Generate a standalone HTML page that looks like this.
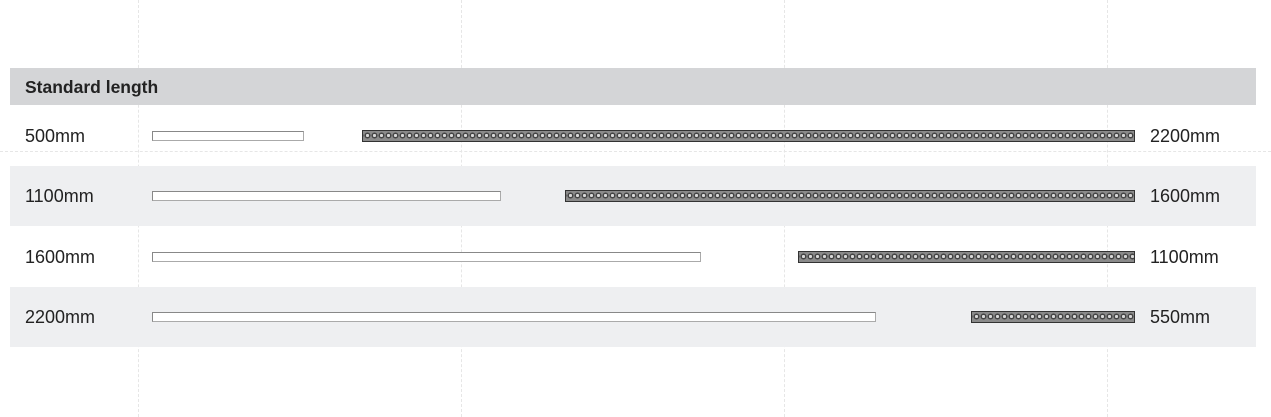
<!DOCTYPE html>
<html><head><style>
html,body{margin:0;padding:0;width:1271px;height:417px;overflow:hidden;background:#fff;font-family:"Liberation Sans",sans-serif;position:relative}
div{position:absolute;box-sizing:border-box}
.v{top:0;width:0;height:417px;border-left:1px dashed #e6e6e6}
.row{left:10px;width:1246px;height:60px}
.g{background:#eeeff1}
.lab{font-size:18px;color:#222;left:25px}
.rl{font-size:18px;color:#222;left:1150px}
.p{height:10px;border:1.5px solid #888;border-right-color:#aaa;border-bottom-color:#aaa;background:#fff}
.d{height:12px;border:1.5px solid #333;background-color:#8a8a8a;
background-image:radial-gradient(circle at 3.5px 4.5px,#d8d8d8 0 1.5px,#444 1.7px 2.8px,transparent 3.1px);
background-size:7px 9px;background-position:1px 0}
</style></head><body>
<div class="v" style="left:138px"></div>
<div class="v" style="left:461px"></div>
<div class="v" style="left:784px"></div>
<div class="v" style="left:1107px"></div>
<div style="left:0;top:151px;width:1271px;border-top:1px dashed #e6e6e6"></div>
<div class="row g" style="top:166px"></div>
<div class="row g" style="top:287px"></div>
<div style="left:10px;top:68px;width:1246px;height:37px;background:#d4d5d7"></div>
<div style="left:25px;top:77px;font-size:17.5px;font-weight:bold;color:#222">Standard length</div>

<div class="lab" style="top:126px">500mm</div>
<div class="p" style="left:152px;top:131px;width:152px"></div>
<div class="d" style="left:362px;top:130px;width:773px"></div>
<div class="rl" style="top:126px">2200mm</div>

<div class="lab" style="top:186px">1100mm</div>
<div class="p" style="left:152px;top:191px;width:349px"></div>
<div class="d" style="left:565px;top:190px;width:570px"></div>
<div class="rl" style="top:186px">1600mm</div>

<div class="lab" style="top:247px">1600mm</div>
<div class="p" style="left:152px;top:252px;width:549px"></div>
<div class="d" style="left:798px;top:251px;width:337px"></div>
<div class="rl" style="top:247px">1100mm</div>

<div class="lab" style="top:307px">2200mm</div>
<div class="p" style="left:152px;top:312px;width:724px"></div>
<div class="d" style="left:971px;top:311px;width:164px"></div>
<div class="rl" style="top:307px">550mm</div>
</body></html>
